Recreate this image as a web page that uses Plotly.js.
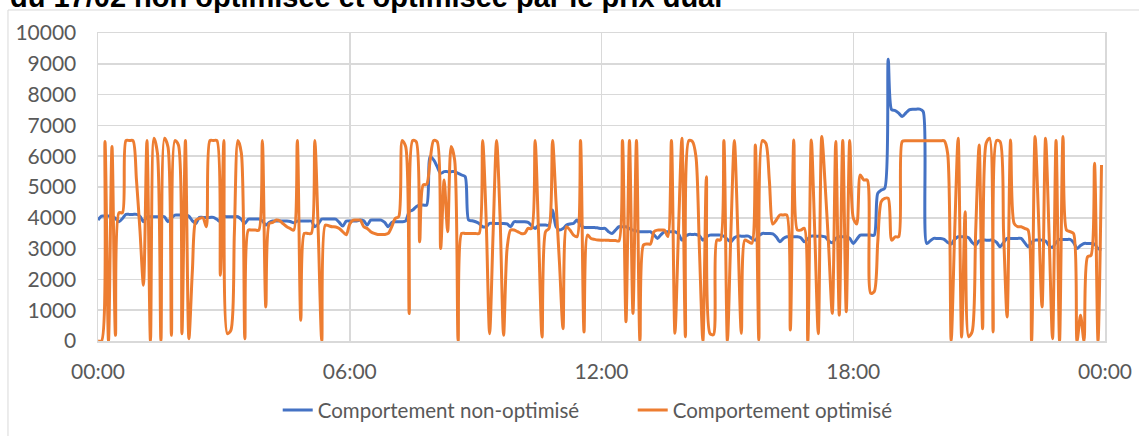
<!DOCTYPE html>
<html>
<head>
<meta charset="utf-8">
<script src="https://cdn.plot.ly/plotly-3.0.1.min.js"></script>
<style>
  html, body { margin: 0; padding: 0; background: #ffffff; }
  #chart { width: 1139px; height: 436px; }
</style>
</head>
<body>
<div id="chart"></div>
<script>
// ---- Data (5-minute steps starting 00:00) ----
const dayStart = '2020-02-17 00:00';
const dayEnd = '2020-02-18 00:00';
const stepMinutes = 5;

const nonOptimise = [
  3926, 4056, 4056, 4056, 4056, 3980, 3872, 3980, 4111, 4111,
  4111, 4111, 4050, 3872, 4035, 4035, 4035, 4035, 4035, 4035,
  3872, 4000, 4089, 4089, 4089, 4089, 4050, 3900, 3818, 4013,
  4013, 4013, 4013, 4013, 3950, 3872, 4035, 4035, 4035, 4035,
  4035, 3950, 3818, 3959, 3959, 3959, 3959, 3900, 3764, 3850,
  3894, 3894, 3894, 3894, 3894, 3880, 3840, 3894, 3894, 3894,
  3894, 3894, 3709, 3800, 3959, 3959, 3959, 3959, 3959, 3850,
  3731, 3894, 3894, 3894, 3894, 3926, 3900, 3764, 3926, 3926,
  3926, 3926, 3850, 3709, 3850, 3872, 3872, 3872, 3900, 4197,
  4252, 4360, 4414, 4414, 4414, 5987, 5878, 5662, 5445, 5499,
  5499, 5499, 5499, 5445, 5390, 5336, 3926, 3905, 3872, 3818,
  3709, 3709, 3818, 3818, 3818, 3818, 3818, 3800, 3709, 3872,
  3872, 3872, 3872, 3850, 3750, 3655, 3764, 3764, 3764, 3764,
  4252, 3709, 3601, 3650, 3764, 3800, 3818, 3926, 3764, 3688,
  3688, 3688, 3688, 3670, 3650, 3655, 3550, 3492, 3600, 3709,
  3709, 3709, 3650, 3601, 3570, 3547, 3547, 3547, 3547, 3450,
  3330, 3450, 3547, 3547, 3547, 3547, 3480, 3275, 3400, 3460,
  3460, 3460, 3420, 3275, 3380, 3438, 3438, 3438, 3438, 3400,
  3300, 3221, 3350, 3405, 3405, 3405, 3405, 3330, 3275, 3420,
  3492, 3492, 3492, 3480, 3380, 3221, 3330, 3384, 3384, 3384,
  3384, 3350, 3221, 3320, 3405, 3405, 3405, 3405, 3380, 3250,
  3188, 3330, 3384, 3384, 3384, 3330, 3167, 3300, 3438, 3438,
  3438, 3438, 3438, 4794, 4900, 4957, 9150, 7505, 7483, 7400,
  7288, 7400, 7505, 7527, 7527, 7527, 7450, 3167, 3250, 3330,
  3330, 3330, 3300, 3200, 3150, 3300, 3384, 3384, 3384, 3350,
  3200, 3113, 3250, 3275, 3275, 3275, 3275, 3200, 3059, 3200,
  3330, 3330, 3330, 3330, 3330, 3200, 3059, 3200, 3275, 3275,
  3275, 3250, 3100, 3037, 3200, 3297, 3297, 3297, 3297, 3200,
  3004, 3100, 3167, 3167, 3167, 3150, 3004, 2972
];

const optimise = [
  0, 0, 6475, 0, 6312, 184, 4165, 4165, 6508, 6508,
  6508, 5228, 3601, 1811, 6508, 0, 6584, 6095, 0, 6584,
  6312, 184, 6508, 6367, 239, 6508, 76, 2300, 3926, 3980,
  4000, 3709, 6508, 6508, 6508, 2137, 6508, 239, 347, 3500,
  6508, 6095, 76, 3601, 3601, 3601, 3601, 6508, 1106, 3818,
  3850, 3926, 3900, 3800, 3709, 3650, 3601, 6508, 672, 3492,
  3492, 3492, 6508, 3500, 0, 3764, 3740, 3709, 3700, 3650,
  3547, 3450, 3800, 3926, 3926, 3926, 3709, 3655, 3547, 3492,
  3460, 3460, 3460, 3492, 3709, 3980, 4035, 6508, 6312, 889,
  6508, 6475, 3221, 5065, 5087, 5878, 6508, 6475, 3004, 5228,
  3547, 6312, 5878, 0, 3492, 3492, 3492, 3492, 3492, 3492,
  6508, 4000, 239, 3500, 6508, 4000, 184, 3000, 3601, 3601,
  3550, 3492, 3492, 3655, 3655, 6508, 3500, 130, 3547, 3655,
  6508, 4500, 2500, 401, 3709, 3601, 3438, 3384, 6508, 293,
  3438, 3330, 3300, 3280, 3275, 3275, 3270, 3260, 3260, 3250,
  6508, 628, 6508, 898, 6508, 0, 3117, 3150, 3150, 3550,
  3600, 3600, 3600, 3390, 6508, 250, 3500, 6584, 140, 6508,
  6475, 6000, 3000, 0, 5335, 250, 200, 3280, 3280, 6508,
  0, 3500, 6508, 3500, 249, 3280, 3225, 3171, 6364, 32,
  6508, 6420, 5227, 3800, 3929, 4091, 4091, 4091, 357, 6526,
  3604, 3604, 3658, 0, 6526, 3500, 239, 6638, 5000, 3000,
  898, 6475, 844, 6508, 952, 6508, 4000, 3800, 5390, 5227,
  5227, 1548, 1602, 3200, 4523, 4631, 4631, 3275, 3384, 3384,
  6475, 6500, 6500, 6500, 6500, 6500, 6500, 6500, 6500, 6500,
  6500, 6500, 6500, 6090, 0, 3500, 6584, 130, 4197, 140,
  300, 3500, 6367, 401, 6420, 6584, 293, 6508, 6475, 3500,
  781, 6526, 3818, 3712, 3709, 3655, 3600, 0, 6638, 4000,
  1106, 6584, 3500, 76, 6508, 0, 6638, 3601, 3550, 3492,
  0, 835, 0, 2733, 2780, 5770, 0, 5714
];

const seriesNames = ['Comportement non-optimisé', 'Comportement optimisé'];
const titleText = 'du 17/02 non optimisée et optimisée par le prix dual';
const yTicks = [0, 1000, 2000, 3000, 4000, 5000, 6000, 7000, 8000, 9000, 10000];
const yTickLabels = ['0', '1000', '2000', '3000', '4000', '5000', '6000', '7000', '8000', '9000', '10000'];

// time categories for each sample
function pad(n) { return (n < 10 ? '0' : '') + n; }
function buildTimes(n) {
  const base = Date.UTC(2020, 1, 17, 0, 0, 0);
  const out = [];
  for (let i = 0; i < n; i++) {
    const d = new Date(base + i * stepMinutes * 60000);
    out.push(d.getUTCFullYear() + '-' + pad(d.getUTCMonth() + 1) + '-' + pad(d.getUTCDate()) +
      ' ' + pad(d.getUTCHours()) + ':' + pad(d.getUTCMinutes()));
  }
  return out;
}
const times = buildTimes(nonOptimise.length);

const tickFont = { family: 'Lato, "Open Sans", sans-serif', size: 21, color: '#595959' };
const gridColor = '#d9d9d9';

const traces = [
  {
    type: 'scatter', mode: 'lines', name: seriesNames[0],
    x: times, y: nonOptimise,
    line: { color: '#4472C4', width: 3, shape: 'spline', smoothing: 0.8 }
  },
  {
    type: 'scatter', mode: 'lines', name: seriesNames[1],
    x: times, y: optimise,
    line: { color: '#ED7D31', width: 3, shape: 'spline', smoothing: 0.8 }
  }
];

const layout = {
  width: 1139, height: 436,
  margin: { l: 98, r: 34, t: 33, b: 95, autoexpand: false },
  paper_bgcolor: '#ffffff', plot_bgcolor: '#ffffff',
  showlegend: true,
  xaxis: {
    type: 'date', range: [dayStart, dayEnd],
    tickformat: '%H:%M', dtick: 6 * 3600 * 1000, tick0: dayStart,
    showgrid: true, gridcolor: gridColor, gridwidth: 1.5,
    showline: true, mirror: true, linecolor: gridColor, linewidth: 1.5,
    ticks: 'outside', ticklen: 11, tickcolor: 'rgba(0,0,0,0)',
    tickfont: tickFont, fixedrange: true, automargin: false
  },
  yaxis: {
    range: [0, 10000], tickvals: yTicks, ticktext: yTickLabels,
    showgrid: true, gridcolor: gridColor, gridwidth: 1.5, zeroline: false,
    showline: true, mirror: true, linecolor: gridColor, linewidth: 1.5,
    ticks: 'outside', ticklen: 16, tickcolor: 'rgba(0,0,0,0)',
    tickfont: tickFont, fixedrange: true, automargin: false
  },
  legend: {
    orientation: 'h', x: 0.531, xanchor: 'center', y: -0.225, yanchor: 'middle',
    entrywidth: 310,
    font: { family: 'Lato, "Open Sans", sans-serif', size: 20.5, color: '#595959' },
    bgcolor: 'rgba(0,0,0,0)'
  },
  shapes: [
    {
      type: 'rect', xref: 'paper', yref: 'paper',
      x0: -0.0894, x1: 1.2, y0: -0.6, y1: 1.0747,
      line: { color: '#d9d9d9', width: 1 }, fillcolor: 'rgba(0,0,0,0)', layer: 'below'
    }
  ],
  annotations: [
    {
      text: '<b>' + titleText + '</b>', xref: 'paper', yref: 'paper',
      x: -0.0894, xanchor: 'left', y: 1.1169, yanchor: 'middle', showarrow: false,
      font: { family: '"Liberation Sans", Arial, sans-serif', size: 29, color: '#000000' }
    }
  ]
};

Plotly.newPlot('chart', traces, layout, { staticPlot: true, displayModeBar: false });
</script>
</body>
</html>
